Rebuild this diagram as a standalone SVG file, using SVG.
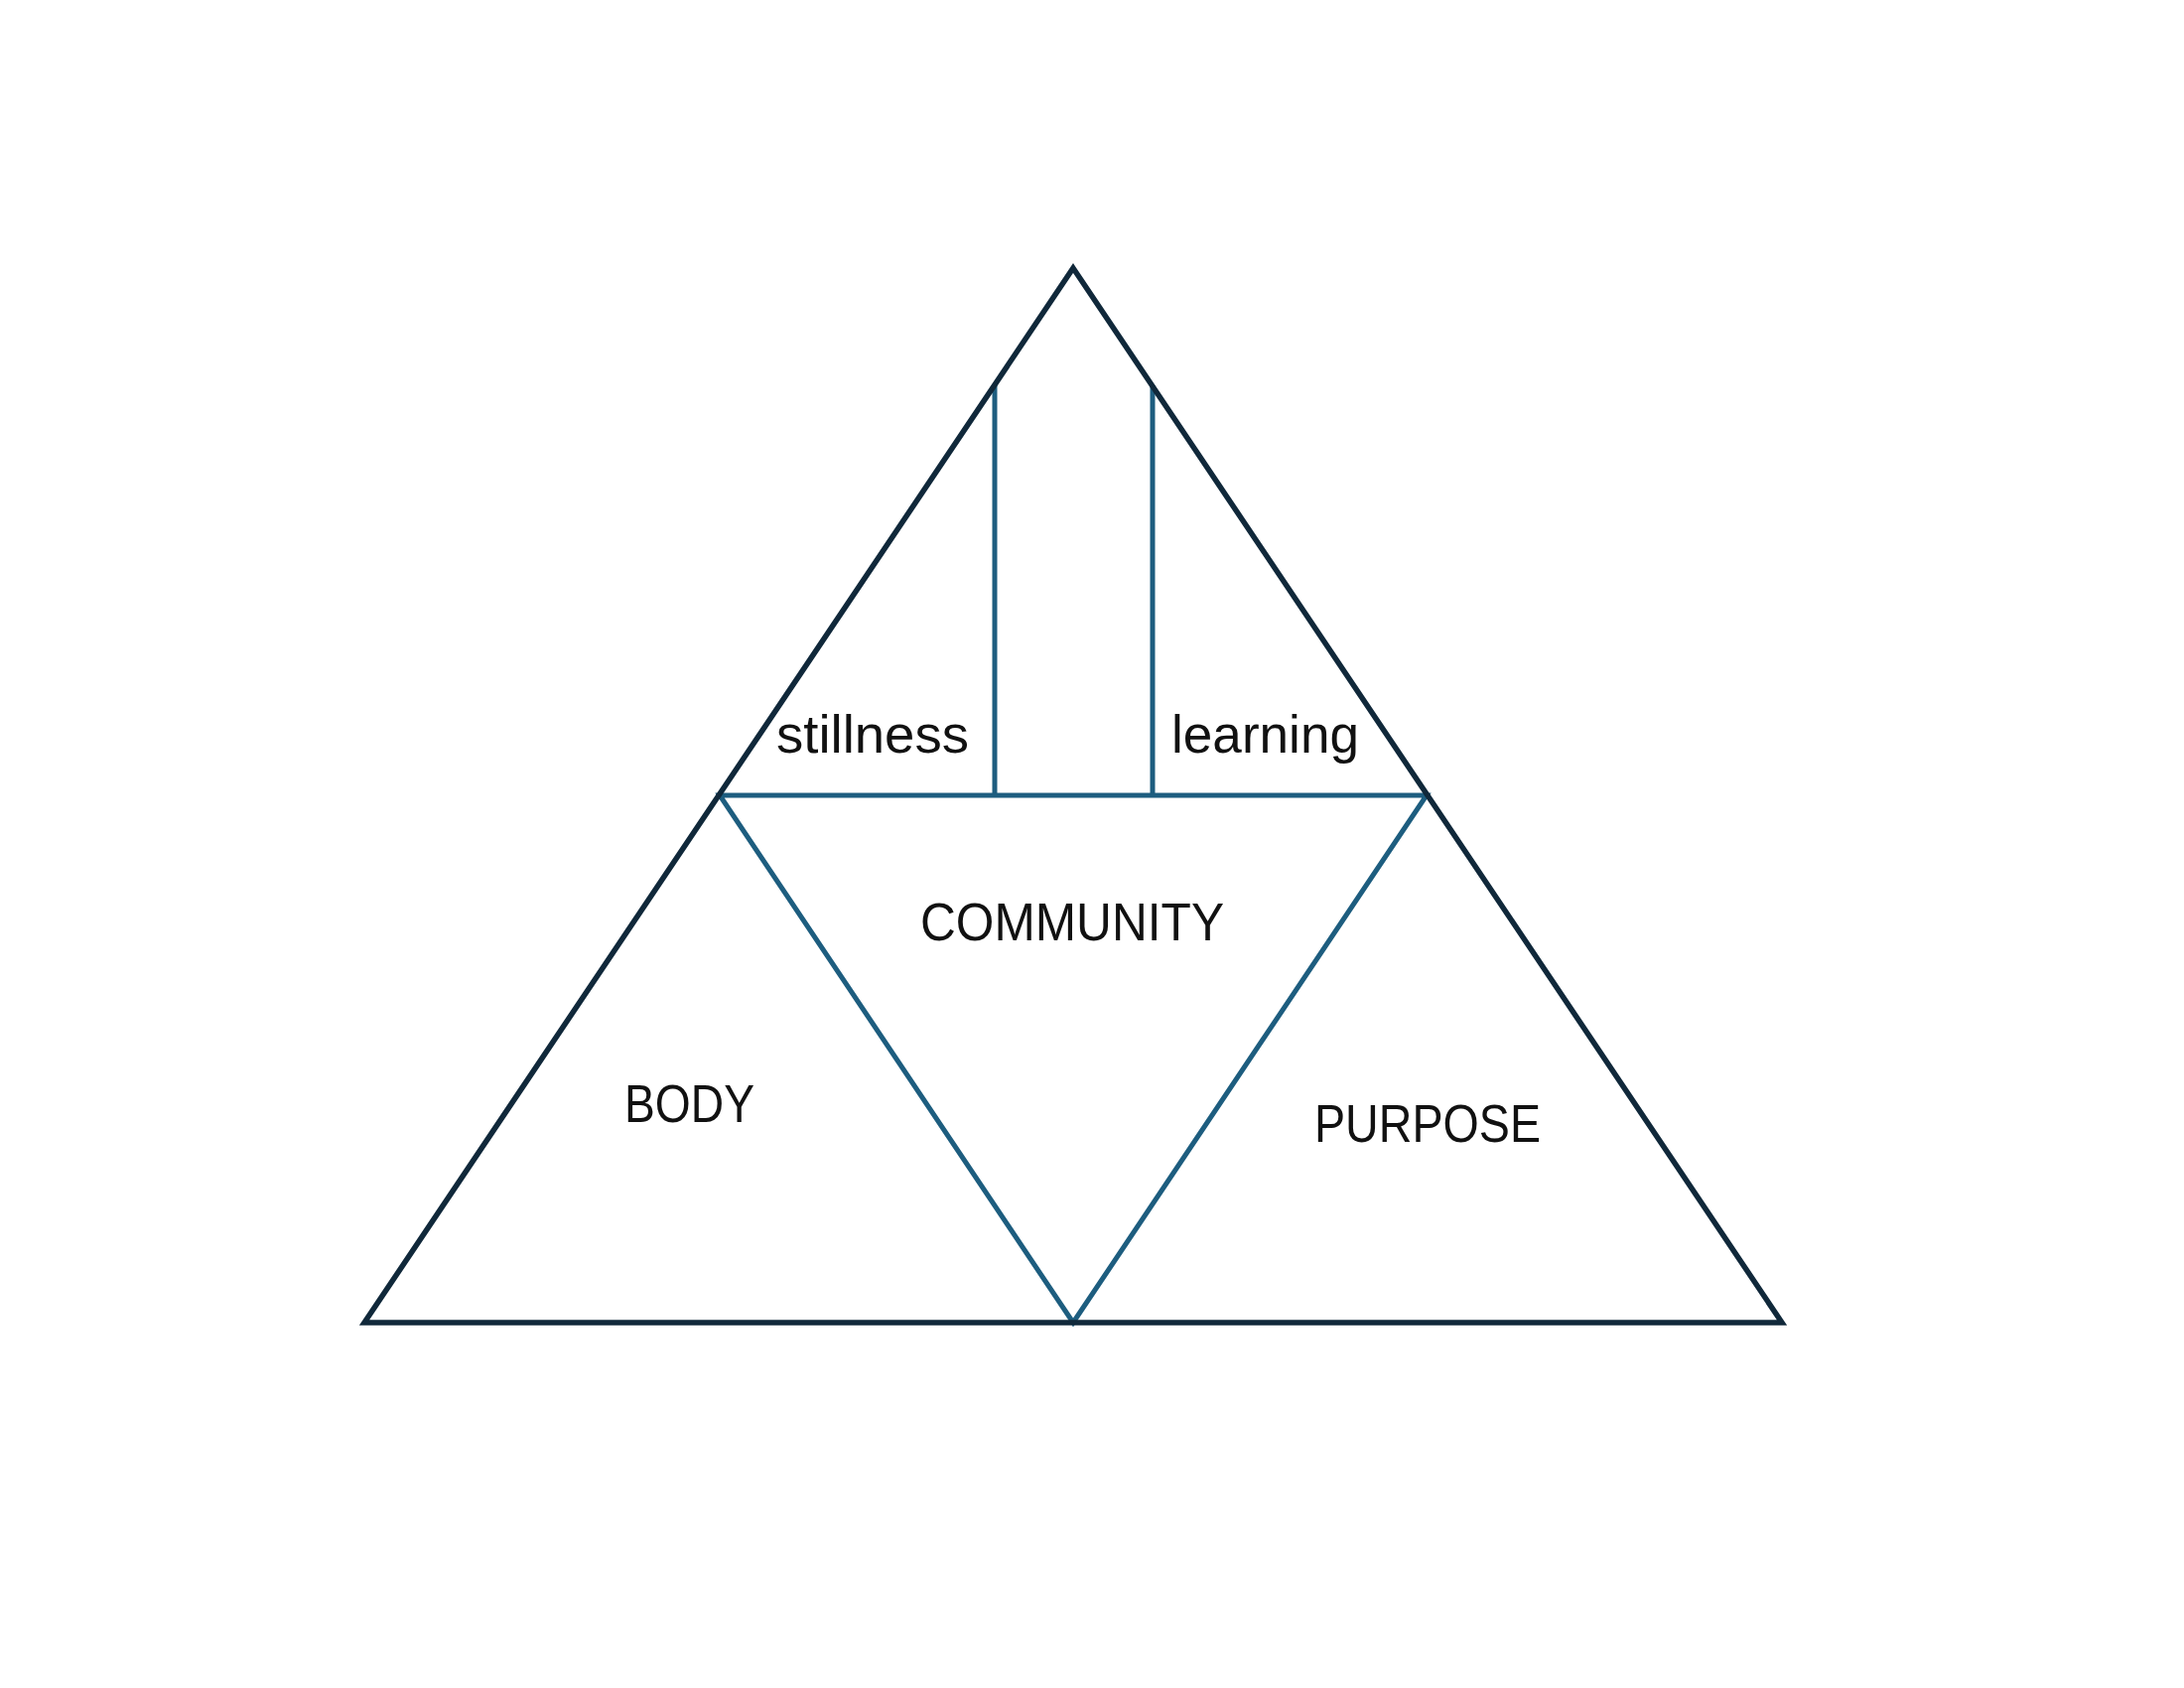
<svg xmlns="http://www.w3.org/2000/svg" width="2200" height="1700" viewBox="0 0 2200 1700">
<style>
.outer{fill:none;stroke:#10283a;stroke-width:5.5;stroke-linejoin:miter}
.inner{fill:none;stroke:#1d5d7f;stroke-width:5}
.lbl{font-family:"Liberation Sans",Arial,sans-serif;fill:#111;font-size:53px}
</style>
<rect width="2200" height="1700" fill="#fff"/>
<g id="connectors">
<line class="inner" x1="1002" y1="388" x2="1002" y2="801"/>
<line class="inner" x1="1161" y1="388" x2="1161" y2="801"/>
<polygon class="inner" points="725,801 1437,801 1081,1332"/>
</g>
<g id="outer-triangle">
<polygon class="outer" points="1081,270 1795,1332 367,1332"/>
</g>
<g id="stillness"><text class="lbl" x="782" y="758" textLength="194" lengthAdjust="spacingAndGlyphs">stillness</text></g>
<g id="learning"><text class="lbl" x="1180" y="758" textLength="189" lengthAdjust="spacingAndGlyphs">learning</text></g>
<g id="community"><text class="lbl" x="927" y="947" textLength="306" lengthAdjust="spacingAndGlyphs">COMMUNITY</text></g>
<g id="body"><text class="lbl" x="629" y="1130" textLength="131" lengthAdjust="spacingAndGlyphs">BODY</text></g>
<g id="purpose"><text class="lbl" x="1324" y="1150" textLength="228" lengthAdjust="spacingAndGlyphs">PURPOSE</text></g>
</svg>
